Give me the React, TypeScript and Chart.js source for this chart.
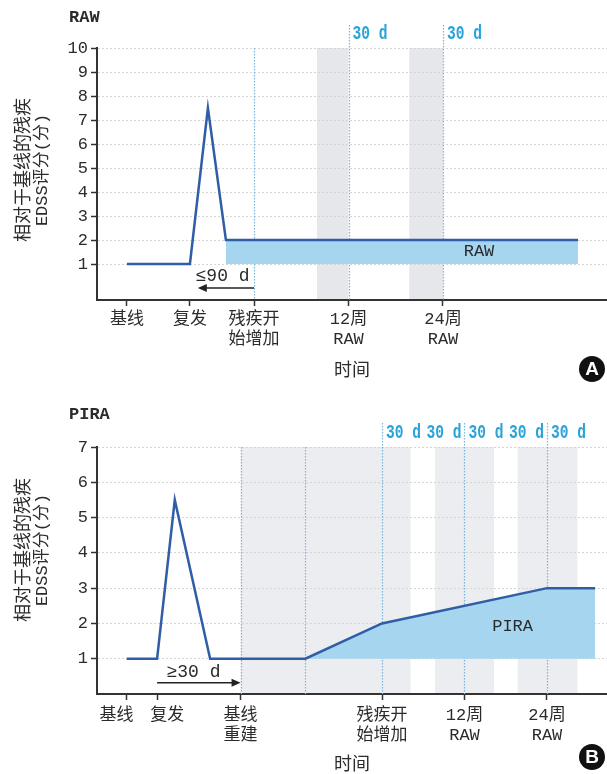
import React, { useEffect, useRef } from "react";
import { Chart, registerables } from "chart.js";

Chart.register(...registerables);

const LATIN = "'Liberation Mono', 'Noto Sans CJK SC', monospace";
const CJK = "'Noto Sans CJK SC', 'Liberation Mono', sans-serif";

// ---------------- Panel A: RAW ----------------
const rawTitle = "RAW";
const rawYTicks = [1, 2, 3, 4, 5, 6, 7, 8, 9, 10];
const rawXTicks = [-113, -57, 0, 84, 168];
const rawXLabels = [["基线"], ["复发"], ["残疾开", "始增加"], ["12周", "RAW"], ["24周", "RAW"]];
const rawLineX = [-113, -57, -41, -25, 288];
const rawLineY = [1, 1, 7.5, 2, 2];
const rawFillX = [-25, 288];
const rawFillY = [2, 2];
const rawBands = [[56, 84], [138, 168]];
const rawVlines = [0, 84, 168];
const rawDLabelX = [84, 168];
const rawDLabelSide = ["right", "right"];
const rawArrow = [0, -50];
const rawArrowText = "≤90 d";
const rawAreaLabel = "RAW";

// ---------------- Panel B: PIRA ----------------
const piraTitle = "PIRA";
const piraYTicks = [1, 2, 3, 4, 5, 6, 7];
const piraXTicks = [-260, -229, -144, 0, 84, 168];
const piraXLabels = [["基线  "], ["  复发"], ["基线", "重建"], ["残疾开", "始增加"], ["12周", "RAW"], ["24周", "RAW"]];
const piraLineX = [-260, -229, -211, -175, -78, 0, 168, 217];
const piraLineY = [1, 1, 5.5, 1, 1, 2, 3, 3];
const piraFillX = [-78, 0, 168, 217];
const piraFillY = [1, 2, 3, 3];
const piraBands = [[-144, 29], [54, 114], [138, 199]];
const piraVlines = [-144, -78, 0, 84, 168];
const piraDLabelX = [0, 84, 84, 168, 168];
const piraDLabelSide = ["right", "left", "right", "left", "right"];
const piraArrow = [-229, -144];
const piraArrowText = "≥30 d";
const piraAreaLabel = "PIRA";

const dLabelText = "30 d";
const yTitleLines = ["相对于基线的残疾", "EDSS评分(分)"];
const xTitle = "时间";

const LINE = "#2f5ea6";
const FILL = "#a6d6ef";
const VLINE = "#79b4dc";
const DTEXT = "#2aa3da";
const TEXT = "#2b2b2b";

type Spec = any;

const specA: Spec = {
  height: 390, top: 48, xAxisH: 90,
  xMin: -139.6, xMax: 313.8, yMin: -0.5, yMax: 10,
  yTicks: rawYTicks, xTicks: rawXTicks, xLabels: rawXLabels,
  lineX: rawLineX, lineY: rawLineY, fillX: rawFillX, fillY: rawFillY,
  bands: rawBands, bandColor: "#e6e7ea",
  vlines: rawVlines, vlineExt: [0, 23, 23],
  dLabelX: rawDLabelX, dLabelSide: rawDLabelSide, dLabelY: 34,
  title: rawTitle, titleY: 18,
  arrow: rawArrow, arrowY: 0, arrowText: rawArrowText, arrowTextX: -28, arrowTextY: 0.5,
  areaLabel: rawAreaLabel, areaLabelX: 200, areaLabelY: 1.52,
  yTitleCenter: 170, xTitleY: 369, letter: "A", letterY: 369, tickPad: 3,
};

const specB: Spec = {
  height: 384, top: 57, xAxisH: 80,
  xMin: -290.2, xMax: 229.1, yMin: 0, yMax: 7,
  yTicks: piraYTicks, xTicks: piraXTicks, xLabels: piraXLabels,
  lineX: piraLineX, lineY: piraLineY, fillX: piraFillX, fillY: piraFillY,
  bands: piraBands, bandColor: "#ecedf0",
  vlines: piraVlines, vlineExt: [0, 0, 24, 24, 24],
  dLabelX: piraDLabelX, dLabelSide: piraDLabelSide, dLabelY: 43,
  title: piraTitle, titleY: 25,
  arrow: piraArrow, arrowY: 0.32, arrowText: piraArrowText, arrowTextX: -192, arrowTextY: 0.63,
  areaLabel: piraAreaLabel, areaLabelX: 133, areaLabelY: 1.9,
  yTitleCenter: 160, xTitleY: 373, letter: "B", letterY: 367, tickPad: 5,
};

function makePlugin(s: Spec) {
  return {
    id: "annot",
    beforeDraw(chart: any) {
      const { ctx, chartArea, scales } = chart;
      ctx.save();
      ctx.fillStyle = s.bandColor;
      for (const [a, b] of s.bands) {
        const x1 = scales.x.getPixelForValue(a);
        const x2 = scales.x.getPixelForValue(b);
        ctx.fillRect(x1, chartArea.top, x2 - x1, chartArea.bottom - chartArea.top);
      }
      ctx.restore();
    },
    beforeDatasetsDraw(chart: any) {
      const { ctx, chartArea, scales } = chart;
      ctx.save();
      ctx.strokeStyle = VLINE;
      ctx.lineWidth = 1.2;
      ctx.setLineDash([1.5, 1.5]);
      s.vlines.forEach((v: number, i: number) => {
        const x = Math.round(scales.x.getPixelForValue(v)) + 0.5;
        ctx.beginPath();
        ctx.moveTo(x, chartArea.top - s.vlineExt[i]);
        ctx.lineTo(x, chartArea.bottom);
        ctx.stroke();
      });
      ctx.restore();
    },
    afterDraw(chart: any) {
      const { ctx, chartArea, scales } = chart;
      const X = (v: number) => scales.x.getPixelForValue(v);
      const Y = (v: number) => scales.y.getPixelForValue(v);
      ctx.save();
      // panel title
      ctx.fillStyle = TEXT;
      ctx.font = `bold 17px ${LATIN}`;
      ctx.textAlign = "left";
      ctx.textBaseline = "middle";
      ctx.fillText(s.title, 69, s.titleY);

      // 30 d labels (tall, condensed to ~35px wide)
      ctx.fillStyle = DTEXT;
      ctx.font = `bold 20px ${LATIN}`;
      const w = ctx.measureText(dLabelText).width;
      const k = 35 / w;
      s.dLabelX.forEach((v: number, i: number) => {
        const x = X(v);
        const left = s.dLabelSide[i] === "right" ? x + 4 : x - 3 - 35;
        ctx.save();
        ctx.translate(left, s.dLabelY);
        ctx.scale(k, 1);
        ctx.textAlign = "left";
        ctx.fillText(dLabelText, 0, 0);
        ctx.restore();
      });

      // arrow
      const ax1 = X(s.arrow[0]);
      const ax2 = X(s.arrow[1]);
      const ay = Y(s.arrowY);
      const dir = Math.sign(ax2 - ax1);
      ctx.strokeStyle = "#222";
      ctx.fillStyle = "#222";
      ctx.lineWidth = 1.6;
      ctx.beginPath();
      ctx.moveTo(ax1, ay);
      ctx.lineTo(ax2 - dir * 6, ay);
      ctx.stroke();
      ctx.beginPath();
      ctx.moveTo(ax2, ay);
      ctx.lineTo(ax2 - dir * 9, ay - 4);
      ctx.lineTo(ax2 - dir * 9, ay + 4);
      ctx.closePath();
      ctx.fill();

      ctx.fillStyle = TEXT;
      ctx.font = `18px ${LATIN}`;
      ctx.textAlign = "center";
      ctx.fillText(s.arrowText, X(s.arrowTextX), Y(s.arrowTextY));

      // area label
      ctx.font = `17px ${LATIN}`;
      ctx.fillText(s.areaLabel, X(s.areaLabelX), Y(s.areaLabelY));

      // x title
      ctx.font = `18px ${CJK}`;
      ctx.fillText(xTitle, (chartArea.left + chartArea.right) / 2, s.xTitleY);

      // y title (rotated)
      ctx.save();
      ctx.translate(22, s.yTitleCenter);
      ctx.rotate(-Math.PI / 2);
      ctx.font = `18px ${CJK}`;
      ctx.fillText(yTitleLines[0], 0, 0);
      ctx.restore();
      ctx.save();
      ctx.translate(42, s.yTitleCenter);
      ctx.rotate(-Math.PI / 2);
      ctx.font = `17px ${LATIN}`;
      ctx.fillText(yTitleLines[1], 0, 0);
      ctx.restore();

      // letter badge
      ctx.fillStyle = "#111";
      ctx.beginPath();
      ctx.arc(592, s.letterY, 13, 0, Math.PI * 2);
      ctx.fill();
      ctx.fillStyle = "#fff";
      ctx.font = `bold 19px 'Liberation Sans', Arial, sans-serif`;
      ctx.textAlign = "center";
      ctx.textBaseline = "middle";
      ctx.fillText(s.letter, 592, s.letterY + 1);
      ctx.restore();
    },
  };
}

function buildConfig(s: Spec): any {
  return {
    type: "line",
    data: {
      datasets: [
        {
          data: s.lineX.map((x: number, i: number) => ({ x, y: s.lineY[i] })),
          borderColor: LINE,
          borderWidth: 2.5,
          pointRadius: 0,
          tension: 0,
          fill: false,
        },
        {
          data: s.fillX.map((x: number, i: number) => ({ x, y: s.fillY[i] })),
          borderColor: "rgba(0,0,0,0)",
          borderWidth: 0,
          backgroundColor: FILL,
          pointRadius: 0,
          tension: 0,
          fill: { value: 1 },
        },
      ],
    },
    options: {
      animation: false,
      responsive: false,
      events: [],
      layout: { padding: { top: s.top, left: 0, right: 0, bottom: 0 } },
      plugins: { legend: { display: false }, tooltip: { enabled: false } },
      scales: {
        x: {
          type: "linear",
          min: s.xMin,
          max: s.xMax,
          afterFit: (sc: any) => { sc.height = s.xAxisH; },
          afterBuildTicks: (sc: any) => { sc.ticks = s.xTicks.map((v: number) => ({ value: v })); },
          ticks: {
            autoSkip: false,
            maxRotation: 0,
            minRotation: 0,
            padding: s.tickPad,
            color: TEXT,
            font: { family: LATIN, size: 17, lineHeight: 1.2 },
            callback: (_v: any, i: number) => s.xLabels[i],
          },
          grid: { drawOnChartArea: false, drawTicks: true, tickLength: 6, tickColor: "#333", tickWidth: 1.5 },
          border: { display: true, color: "#333", width: 2 },
        },
        y: {
          type: "linear",
          min: s.yMin,
          max: s.yMax,
          afterFit: (sc: any) => { sc.width = 97; },
          afterBuildTicks: (sc: any) => { sc.ticks = s.yTicks.map((v: number) => ({ value: v })); },
          ticks: {
            autoSkip: false,
            padding: 3,
            color: TEXT,
            font: { family: LATIN, size: 17 },
          },
          grid: { color: "#d4d4d4", lineWidth: 1, drawTicks: true, tickLength: 6, tickColor: "#333", tickWidth: 1.5 },
          border: { display: true, color: "#333", width: 2, dash: [2, 2] },
        },
      },
    },
    plugins: [makePlugin(s)],
  };
}

function Panel({ spec }: { spec: Spec }) {
  const ref = useRef<HTMLCanvasElement>(null);
  useEffect(() => {
    const chart = new Chart(ref.current as HTMLCanvasElement, buildConfig(spec));
    return () => chart.destroy();
  }, [spec]);
  return (
    <canvas
      ref={ref}
      width={607}
      height={spec.height}
      style={{ display: "block", width: 607, height: spec.height }}
    />
  );
}

export default function App() {
  return (
    <div style={{ position: "absolute", left: 0, top: 0, width: 607, height: 774, background: "#fff" }}>
      <Panel spec={specA} />
      <Panel spec={specB} />
    </div>
  );
}
